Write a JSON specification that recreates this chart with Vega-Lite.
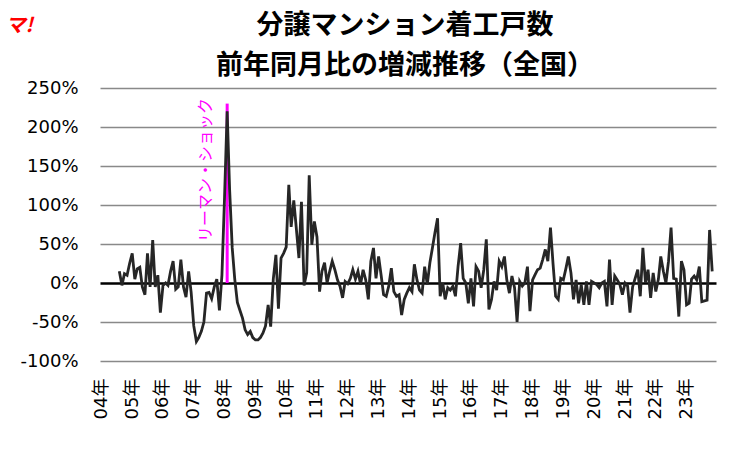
{
  "$schema": "https://vega.github.io/schema/vega-lite/v6.json",
  "autosize": {"type": "none"},
  "padding": {"left": 100, "top": 88, "right": 37, "bottom": 91},
  "width": 616,
  "height": 273,
  "background": "white",
  "config": {"view": {"stroke": null}},
  "title": {
    "text": ["分譲マンション着工戸数", "前年同月比の増減推移（全国）"],
    "frame": "group",
    "anchor": "middle",
    "baseline": "bottom",
    "offset": -92,
    "dx": -3,
    "font": "Noto Sans CJK JP",
    "fontSize": 27,
    "fontWeight": "bold",
    "lineHeight": 40,
    "color": "black"
  },
  "datasets": {
    "series": [
      {"date": "2004-08", "v": 0.15}, {"date": "2004-09", "v": -0.03}, {"date": "2004-10", "v": 0.12}, {"date": "2004-11", "v": 0.10}, {"date": "2004-12", "v": 0.25},
      {"date": "2005-01", "v": 0.38}, {"date": "2005-02", "v": 0.05}, {"date": "2005-03", "v": 0.18}, {"date": "2005-04", "v": 0.20}, {"date": "2005-05", "v": -0.05}, {"date": "2005-06", "v": -0.15},
      {"date": "2005-07", "v": 0.38}, {"date": "2005-08", "v": -0.05}, {"date": "2005-09", "v": 0.55}, {"date": "2005-10", "v": -0.05}, {"date": "2005-11", "v": 0.10}, {"date": "2005-12", "v": -0.38},
      {"date": "2006-01", "v": -0.03}, {"date": "2006-02", "v": 0.00}, {"date": "2006-03", "v": -0.03}, {"date": "2006-04", "v": 0.15}, {"date": "2006-05", "v": 0.28}, {"date": "2006-06", "v": -0.08},
      {"date": "2006-07", "v": -0.05}, {"date": "2006-08", "v": 0.30}, {"date": "2006-09", "v": -0.05}, {"date": "2006-10", "v": -0.18}, {"date": "2006-11", "v": 0.15}, {"date": "2006-12", "v": -0.12},
      {"date": "2007-01", "v": -0.55}, {"date": "2007-02", "v": -0.75}, {"date": "2007-03", "v": -0.70}, {"date": "2007-04", "v": -0.62}, {"date": "2007-05", "v": -0.50}, {"date": "2007-06", "v": -0.13},
      {"date": "2007-07", "v": -0.12}, {"date": "2007-08", "v": -0.20}, {"date": "2007-09", "v": -0.05}, {"date": "2007-10", "v": 0.05}, {"date": "2007-11", "v": -0.35}, {"date": "2007-12", "v": 0.10},
      {"date": "2008-01", "v": 1.10}, {"date": "2008-02", "v": 2.20}, {"date": "2008-03", "v": 1.20}, {"date": "2008-04", "v": 0.45}, {"date": "2008-05", "v": 0.05}, {"date": "2008-06", "v": -0.25},
      {"date": "2008-07", "v": -0.35}, {"date": "2008-08", "v": -0.45}, {"date": "2008-09", "v": -0.60}, {"date": "2008-10", "v": -0.66}, {"date": "2008-11", "v": -0.62}, {"date": "2008-12", "v": -0.70},
      {"date": "2009-01", "v": -0.73}, {"date": "2009-02", "v": -0.73}, {"date": "2009-03", "v": -0.70}, {"date": "2009-04", "v": -0.64}, {"date": "2009-05", "v": -0.55}, {"date": "2009-06", "v": -0.28},
      {"date": "2009-07", "v": -0.56}, {"date": "2009-08", "v": 0.05}, {"date": "2009-09", "v": 0.36}, {"date": "2009-10", "v": -0.33}, {"date": "2009-11", "v": 0.32}, {"date": "2009-12", "v": 0.38},
      {"date": "2010-01", "v": 0.46}, {"date": "2010-02", "v": 1.26}, {"date": "2010-03", "v": 0.72}, {"date": "2010-04", "v": 1.06}, {"date": "2010-05", "v": 0.70}, {"date": "2010-06", "v": 0.32},
      {"date": "2010-07", "v": 1.04}, {"date": "2010-08", "v": -0.03}, {"date": "2010-09", "v": 0.13}, {"date": "2010-10", "v": 1.38}, {"date": "2010-11", "v": 0.49}, {"date": "2010-12", "v": 0.79},
      {"date": "2011-01", "v": 0.59}, {"date": "2011-02", "v": -0.11}, {"date": "2011-03", "v": 0.15}, {"date": "2011-04", "v": 0.26}, {"date": "2011-05", "v": 0.00}, {"date": "2011-06", "v": 0.15},
      {"date": "2011-07", "v": 0.28}, {"date": "2011-08", "v": 0.17}, {"date": "2011-09", "v": 0.04}, {"date": "2011-10", "v": -0.04}, {"date": "2011-11", "v": -0.19}, {"date": "2011-12", "v": 0.02},
      {"date": "2012-01", "v": -0.01}, {"date": "2012-02", "v": 0.06}, {"date": "2012-03", "v": 0.17}, {"date": "2012-04", "v": 0.05}, {"date": "2012-05", "v": 0.15}, {"date": "2012-06", "v": -0.02},
      {"date": "2012-07", "v": 0.17}, {"date": "2012-08", "v": 0.04}, {"date": "2012-09", "v": -0.21}, {"date": "2012-10", "v": 0.28}, {"date": "2012-11", "v": 0.45}, {"date": "2012-12", "v": 0.06},
      {"date": "2013-01", "v": 0.34}, {"date": "2013-02", "v": 0.09}, {"date": "2013-03", "v": -0.15}, {"date": "2013-04", "v": -0.17}, {"date": "2013-05", "v": -0.04}, {"date": "2013-06", "v": 0.19},
      {"date": "2013-07", "v": -0.11}, {"date": "2013-08", "v": -0.17}, {"date": "2013-09", "v": -0.15}, {"date": "2013-10", "v": -0.41}, {"date": "2013-11", "v": -0.21}, {"date": "2013-12", "v": -0.13},
      {"date": "2014-01", "v": -0.06}, {"date": "2014-02", "v": -0.11}, {"date": "2014-03", "v": 0.24}, {"date": "2014-04", "v": 0.04}, {"date": "2014-05", "v": -0.09}, {"date": "2014-06", "v": -0.13},
      {"date": "2014-07", "v": 0.21}, {"date": "2014-08", "v": -0.02}, {"date": "2014-09", "v": 0.26}, {"date": "2014-10", "v": 0.45}, {"date": "2014-11", "v": 0.65}, {"date": "2014-12", "v": 0.83},
      {"date": "2015-01", "v": -0.17}, {"date": "2015-02", "v": 0.00}, {"date": "2015-03", "v": -0.21}, {"date": "2015-04", "v": -0.06}, {"date": "2015-05", "v": -0.09}, {"date": "2015-06", "v": -0.04},
      {"date": "2015-07", "v": -0.17}, {"date": "2015-08", "v": 0.21}, {"date": "2015-09", "v": 0.51}, {"date": "2015-10", "v": 0.06}, {"date": "2015-11", "v": 0.00}, {"date": "2015-12", "v": -0.26},
      {"date": "2016-01", "v": 0.06}, {"date": "2016-02", "v": -0.30}, {"date": "2016-03", "v": 0.21}, {"date": "2016-04", "v": 0.15}, {"date": "2016-05", "v": -0.06}, {"date": "2016-06", "v": 0.17},
      {"date": "2016-07", "v": 0.56}, {"date": "2016-08", "v": -0.34}, {"date": "2016-09", "v": -0.21}, {"date": "2016-10", "v": 0.02}, {"date": "2016-11", "v": -0.09}, {"date": "2016-12", "v": 0.28},
      {"date": "2017-01", "v": 0.21}, {"date": "2017-02", "v": 0.34}, {"date": "2017-03", "v": 0.04}, {"date": "2017-04", "v": -0.13}, {"date": "2017-05", "v": 0.09}, {"date": "2017-06", "v": -0.06},
      {"date": "2017-07", "v": -0.50}, {"date": "2017-08", "v": 0.02}, {"date": "2017-09", "v": -0.04}, {"date": "2017-10", "v": 0.00}, {"date": "2017-11", "v": 0.21}, {"date": "2017-12", "v": -0.36},
      {"date": "2018-01", "v": 0.04}, {"date": "2018-02", "v": 0.11}, {"date": "2018-03", "v": 0.17}, {"date": "2018-04", "v": 0.19}, {"date": "2018-05", "v": 0.30}, {"date": "2018-06", "v": 0.43},
      {"date": "2018-07", "v": 0.28}, {"date": "2018-08", "v": 0.71}, {"date": "2018-09", "v": 0.24}, {"date": "2018-10", "v": -0.17}, {"date": "2018-11", "v": -0.21}, {"date": "2018-12", "v": 0.06},
      {"date": "2019-01", "v": 0.04}, {"date": "2019-02", "v": 0.19}, {"date": "2019-03", "v": 0.34}, {"date": "2019-04", "v": 0.13}, {"date": "2019-05", "v": -0.21}, {"date": "2019-06", "v": 0.04},
      {"date": "2019-07", "v": -0.26}, {"date": "2019-08", "v": -0.02}, {"date": "2019-09", "v": -0.28}, {"date": "2019-10", "v": 0.02}, {"date": "2019-11", "v": -0.28}, {"date": "2019-12", "v": 0.02},
      {"date": "2020-01", "v": 0.00}, {"date": "2020-02", "v": -0.02}, {"date": "2020-03", "v": -0.06}, {"date": "2020-04", "v": 0.00}, {"date": "2020-05", "v": 0.02}, {"date": "2020-06", "v": -0.30},
      {"date": "2020-07", "v": 0.30}, {"date": "2020-08", "v": -0.28}, {"date": "2020-09", "v": 0.09}, {"date": "2020-10", "v": 0.04}, {"date": "2020-11", "v": -0.02}, {"date": "2020-12", "v": -0.15},
      {"date": "2021-01", "v": 0.00}, {"date": "2021-02", "v": -0.04}, {"date": "2021-03", "v": -0.38}, {"date": "2021-04", "v": -0.05}, {"date": "2021-05", "v": 0.06}, {"date": "2021-06", "v": 0.17},
      {"date": "2021-07", "v": -0.17}, {"date": "2021-08", "v": 0.45}, {"date": "2021-09", "v": 0.00}, {"date": "2021-10", "v": 0.17}, {"date": "2021-11", "v": -0.19}, {"date": "2021-12", "v": 0.13},
      {"date": "2022-01", "v": -0.11}, {"date": "2022-02", "v": 0.05}, {"date": "2022-03", "v": 0.34}, {"date": "2022-04", "v": 0.15}, {"date": "2022-05", "v": 0.00}, {"date": "2022-06", "v": 0.28},
      {"date": "2022-07", "v": 0.71}, {"date": "2022-08", "v": 0.06}, {"date": "2022-09", "v": 0.05}, {"date": "2022-10", "v": -0.43}, {"date": "2022-11", "v": 0.28}, {"date": "2022-12", "v": 0.17},
      {"date": "2023-01", "v": -0.28}, {"date": "2023-02", "v": -0.26}, {"date": "2023-03", "v": 0.05}, {"date": "2023-04", "v": 0.09}, {"date": "2023-05", "v": 0.04}, {"date": "2023-06", "v": 0.21},
      {"date": "2023-07", "v": -0.24}, {"date": "2023-08", "v": -0.23}, {"date": "2023-09", "v": -0.22}, {"date": "2023-10", "v": 0.68}, {"date": "2023-11", "v": 0.15}
    ],
    "note": [
      {"date": "2008-02", "v": 0, "top": 2.3, "label": "リーマン・ショック"}
    ]
  },
  "encoding": {
    "x": {
      "field": "date",
      "type": "temporal",
      "scale": {
        "type": "utc",
        "domain": [
          {"year": 2003, "month": 12, "date": 16, "utc": true},
          {"year": 2023, "month": 12, "date": 16, "utc": true}
        ]
      },
      "axis": {
        "title": null,
        "domain": false,
        "ticks": false,
        "grid": false,
        "labelAngle": -90,
        "labelPadding": 17,
        "labelExpr": "utcFormat(datum.value, '%y') + '年'",
        "tickCount": {"interval": "year", "step": 1},
        "labelFont": "DejaVu Sans, Noto Sans CJK JP",
        "labelFontSize": 18,
        "labelColor": "black",
        "labelOverlap": false,
        "labelFlush": false
      }
    },
    "y": {
      "field": "v",
      "type": "quantitative",
      "scale": {"domain": [-1, 2.5], "nice": false, "zero": false},
      "axis": {
        "title": "マ!",
        "titleAngle": 0,
        "titleX": -95,
        "titleY": -57,
        "titleAlign": "left",
        "titleBaseline": "alphabetic",
        "titleColor": "#ff0000",
        "titleFont": "Noto Sans CJK JP",
        "titleFontSize": 20,
        "titleFontWeight": "bold",
        "titleFontStyle": "italic",
        "values": [-1, -0.5, 0, 0.5, 1, 1.5, 2, 2.5],
        "tickCount": 8,
        "labelExpr": "round(datum.value * 100) + '%'",
        "domain": false,
        "ticks": false,
        "labelPadding": 22,
        "labelFont": "DejaVu Sans",
        "labelFontSize": 18,
        "labelColor": "black",
        "grid": true,
        "gridColor": {"condition": {"test": "datum.value === 0", "value": "black"}, "value": "#898989"},
        "gridWidth": {"condition": {"test": "datum.value === 0", "value": 2.6}, "value": 1.5},
        "gridOpacity": 1
      }
    }
  },
  "layer": [
    {
      "data": {"name": "note"},
      "mark": {"type": "rule", "color": "#ff00ff", "strokeWidth": 3},
      "encoding": {
        "y2": {"field": "top"}
      }
    },
    {
      "data": {"name": "series"},
      "mark": {"type": "line", "color": "#262626", "strokeWidth": 2.8}
    },
    {
      "data": {"name": "note"},
      "mark": {
        "type": "text",
        "angle": 270,
        "align": "left",
        "baseline": "middle",
        "dx": 41,
        "dy": -21,
        "color": "#ff00ff",
        "font": "Noto Sans CJK JP",
        "fontSize": 16
      },
      "encoding": {
        "text": {"field": "label"}
      }
    }
  ]
}
